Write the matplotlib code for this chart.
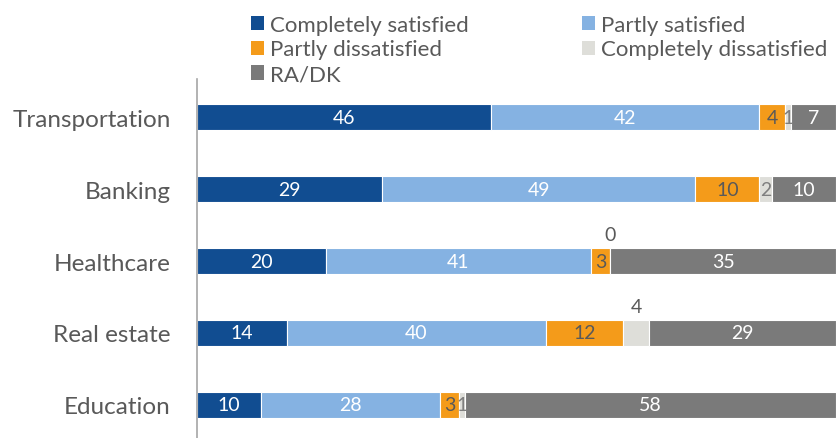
import matplotlib.pyplot as plt
import numpy as np
from matplotlib.patches import Patch

plt.rcParams["font.family"] = ["Lato", "DejaVu Sans"]

categories = ["Transportation", "Banking", "Healthcare", "Real estate", "Education"]
series = ["Completely satisfied", "Partly satisfied", "Partly dissatisfied",
          "Completely dissatisfied", "RA/DK"]
completely_satisfied = [46, 29, 20, 14, 10]
partly_satisfied = [42, 49, 41, 40, 28]
partly_dissatisfied = [4, 10, 3, 12, 3]
completely_dissatisfied = [1, 2, 0, 4, 1]
ra_dk = [7, 10, 35, 29, 58]

colors = ["#114D91", "#85B2E2", "#F49B1A", "#DEDED9", "#7A7A7A"]
label_colors = ["white", "white", "#595959", "#7F7F7F", "white"]
text_gray = "#595959"

values = np.array([completely_satisfied, partly_satisfied, partly_dissatisfied,
                   completely_dissatisfied, ra_dk], dtype=float)
# 100% stacked, like the original
widths = values / values.sum(axis=0) * 100

fig = plt.figure(figsize=(8.36, 4.39), dpi=100)
ax = fig.add_axes([197 / 836, 0, 1 - 197 / 836, 1 - 80 / 439])

y = np.arange(len(categories))
left = np.zeros(len(categories))
for i, name in enumerate(series):
    ax.barh(y, widths[i], left=left, height=0.36, color=colors[i],
            edgecolor="white", linewidth=0.8, label=name)
    for j in range(len(categories)):
        v = int(values[i, j])
        cx = left[j] + widths[i, j] / 2
        if name == "Completely dissatisfied" and categories[j] in ("Healthcare", "Real estate"):
            # small segments labelled above the bar
            ax.text(cx, y[j] - 0.37, str(v), ha="center", va="center",
                    fontsize=14, color=text_gray)
        else:
            ax.text(cx, y[j], str(v), ha="center", va="center",
                    fontsize=14, color=label_colors[i])
    left += widths[i]

ax.set_xlim(0, 100)
ax.set_ylim(4.46, -0.53)
ax.set_yticks(y)
ax.set_yticklabels(categories, fontsize=17.5, color=text_gray)
ax.tick_params(axis="y", length=0, pad=19)
ax.set_xticks([])
for s in ["top", "right", "bottom"]:
    ax.spines[s].set_visible(False)
ax.spines["left"].set_color("#A6A6A6")
ax.spines["left"].set_linewidth(1.2)

# row-wise legend order: matplotlib fills columns first
order = [0, 2, 4, 1, 3]
handles = [Patch(facecolor=colors[k], edgecolor="none") for k in order]
fig.legend(handles, [series[k] for k in order], loc="upper left",
           bbox_to_anchor=(233 / 836, 1.005),
           ncol=2, frameon=False, fontsize=16, labelcolor=text_gray,
           handlelength=0.6, handleheight=0.6, handletextpad=0.25,
           columnspacing=5.1, labelspacing=0.22, borderpad=0.3)

fig.savefig("out.png", dpi=100)
